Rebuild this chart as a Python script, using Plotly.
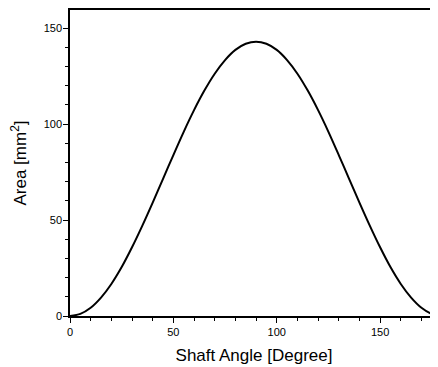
import plotly.graph_objects as go

angle = [0, 5, 10, 15, 20, 25, 30, 35, 40, 45, 50, 55, 60, 65, 70, 75, 80, 85, 90,
         95, 100, 105, 110, 115, 120, 125, 130, 135, 140, 145, 150, 155, 160, 165, 170, 175, 180]
area = [0, 1.1, 4.3, 9.6, 16.7, 25.5, 35.8, 47.1, 59.1, 71.5, 83.9, 96.0, 107.3, 117.5, 126.3, 133.4, 138.7, 141.9, 143,
        141.9, 138.7, 133.4, 126.3, 117.5, 107.3, 96.0, 83.9, 71.5, 59.1, 47.1, 35.8, 25.5, 16.7, 9.6, 4.3, 1.1, 0]

x_ticks = [0, 50, 100, 150]
y_ticks = [0, 50, 100, 150]

fig = go.Figure()
fig.add_trace(go.Scatter(x=angle, y=area, mode="lines", line=dict(color="black", width=2, shape="spline", smoothing=0.8),
                         showlegend=False))

font = "Liberation Sans, Arial, sans-serif"
fig.update_layout(
    template="none",
    width=430, height=359,
    margin=dict(l=62, r=0, t=1.5, b=50.5, pad=0, autoexpand=False),
    paper_bgcolor="white", plot_bgcolor="white",
    font=dict(family=font, color="black"),
    xaxis=dict(range=[0, 178], tickvals=x_ticks, ticks="outside", ticklen=5, tickwidth=1.2, tickcolor="black",
               automargin=False,
               showline=True, linecolor="black", linewidth=1.5, mirror=True, showgrid=False, zeroline=False,
               minor=dict(dtick=10, ticks="outside", ticklen=3, tickwidth=1, tickcolor="black", showgrid=False),
               tickfont=dict(size=11, family=font, color="black"),
               title=dict(text="Shaft Angle [Degree]", font=dict(size=17, family=font, color="black"), standoff=12)),
    yaxis=dict(range=[0, 159.5], tickvals=y_ticks, ticks="outside", ticklen=5, tickwidth=1.2, tickcolor="black",
               automargin=False, ticklabelstandoff=-1,
               showline=True, linecolor="black", linewidth=1.5, showgrid=False, zeroline=False,
               minor=dict(dtick=10, ticks="outside", ticklen=3, tickwidth=1, tickcolor="black", showgrid=False),
               tickfont=dict(size=11, family=font, color="black"),
               title=dict(text="Area [mm<sup>2</sup>]", font=dict(size=17, family=font, color="black"), standoff=13)),
)

fig.write_html("out.html")
